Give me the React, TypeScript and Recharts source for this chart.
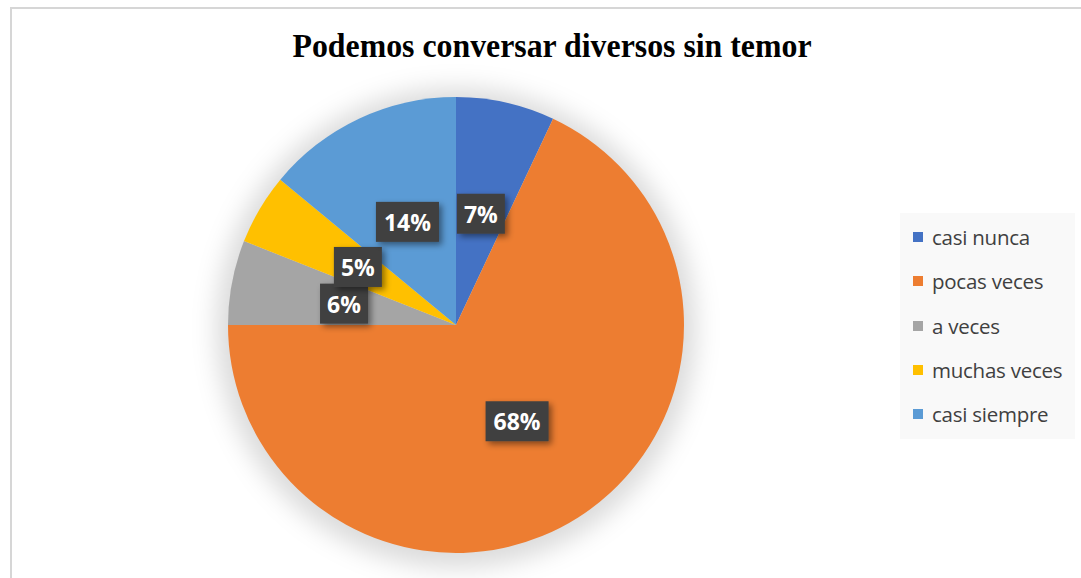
import React from "react";
import { PieChart, Pie, Cell, Legend } from "recharts";

const categories = ["casi nunca", "pocas veces", "a veces", "muchas veces", "casi siempre"];
const values = [7, 68, 6, 5, 14];
const colors = ["#4472C4", "#ED7D31", "#A5A5A5", "#FFC000", "#5B9BD5"];
const title = "Podemos conversar diversos sin temor";

const data = categories.map((name, i) => ({ name, value: values[i] }));
const shadowData = [{ name: "shadow", value: 1 }];
const RADIAN = Math.PI / 180;

const renderLabel = (props: any) => {
  const { cx, cy, midAngle, outerRadius, value } = props;
  const r = outerRadius * 0.5;
  const x = cx + r * Math.cos(-midAngle * RADIAN);
  const y = cy + r * Math.sin(-midAngle * RADIAN);
  const text = `${value}%`;
  const w = text.length * 15 + 18;
  const h = 40;
  return (
    <g>
      <rect x={x - w / 2} y={y - h / 2} width={w} height={h} fill="#404040" filter="url(#lblShadow)" />
      <text
        x={x}
        y={y}
        fill="#ffffff"
        textAnchor="middle"
        dominantBaseline="central"
        fontFamily="'Open Sans', 'Noto Sans', sans-serif"
        fontWeight={700}
        fontSize={23}
      >
        {text}
      </text>
    </g>
  );
};

const renderLegend = () => (
  <div
    style={{
      width: 175,
      height: 226,
      background: "#f9f9f9",
      boxSizing: "border-box",
      paddingTop: 2,
      paddingLeft: 13,
      fontFamily: "'Open Sans', 'Noto Sans', sans-serif",
      fontSize: 20.5,
      letterSpacing: -0.25,
      color: "#404040",
      whiteSpace: "nowrap",
    }}
  >
    {categories.map((c, i) => (
      <div key={c} style={{ display: "flex", alignItems: "center", height: 44.3 }}>
        <span style={{ display: "inline-block", width: 10, height: 10, background: colors[i], marginRight: 9, flexShrink: 0 }} />
        <span>{c}</span>
      </div>
    ))}
  </div>
);

export default function App() {
  return (
    <div
      style={{
        position: "fixed",
        left: 0,
        top: 0,
        width: 1081,
        height: 578,
        overflow: "hidden",
        background: "#ffffff",
      }}
    >
      <div
        style={{
          position: "absolute",
          left: 10,
          top: 7,
          width: 1200,
          height: 700,
          border: "2px solid #d6d6d6",
          boxSizing: "border-box",
        }}
      />
      <PieChart
        width={1081}
        height={578}
        margin={{ top: 0, right: 0, bottom: 0, left: 0 }}
        style={{ position: "absolute", left: 0, top: 0 }}
      >
        <defs>
          <filter id="pieShadow" x="-30%" y="-30%" width="160%" height="160%">
            <feGaussianBlur stdDeviation="12" />
          </filter>
          <filter id="lblShadow" x="-40%" y="-40%" width="180%" height="180%">
            <feDropShadow dx="3" dy="3" stdDeviation="3" floodColor="#000000" floodOpacity="0.45" />
          </filter>
        </defs>
        <text
          x={552}
          y={57}
          textAnchor="middle"
          fontFamily="'Liberation Serif', 'Times New Roman', serif"
          fontWeight={700}
          fontSize={33}
          textLength={519}
          lengthAdjust="spacingAndGlyphs"
          fill="#000000"
        >
          {title}
        </text>
        <Pie
          data={shadowData}
          dataKey="value"
          cx={456}
          cy={328}
          outerRadius={240}
          startAngle={90}
          endAngle={-270}
          fill="#000000"
          fillOpacity={0.14}
          stroke="none"
          style={{ filter: "url(#pieShadow)" }}
          isAnimationActive={false}
          legendType="none"
        />
        <Pie
          data={data}
          dataKey="value"
          nameKey="name"
          cx={456}
          cy={325}
          outerRadius={228}
          startAngle={90}
          endAngle={-270}
          stroke="none"
          labelLine={false}
          label={renderLabel}
          isAnimationActive={false}
        >
          {data.map((d, i) => (
            <Cell key={d.name} fill={colors[i]} />
          ))}
        </Pie>
        <Legend
          content={renderLegend}
          wrapperStyle={{ left: 900, top: 213, width: 175, height: 226 }}
        />
      </PieChart>
    </div>
  );
}
